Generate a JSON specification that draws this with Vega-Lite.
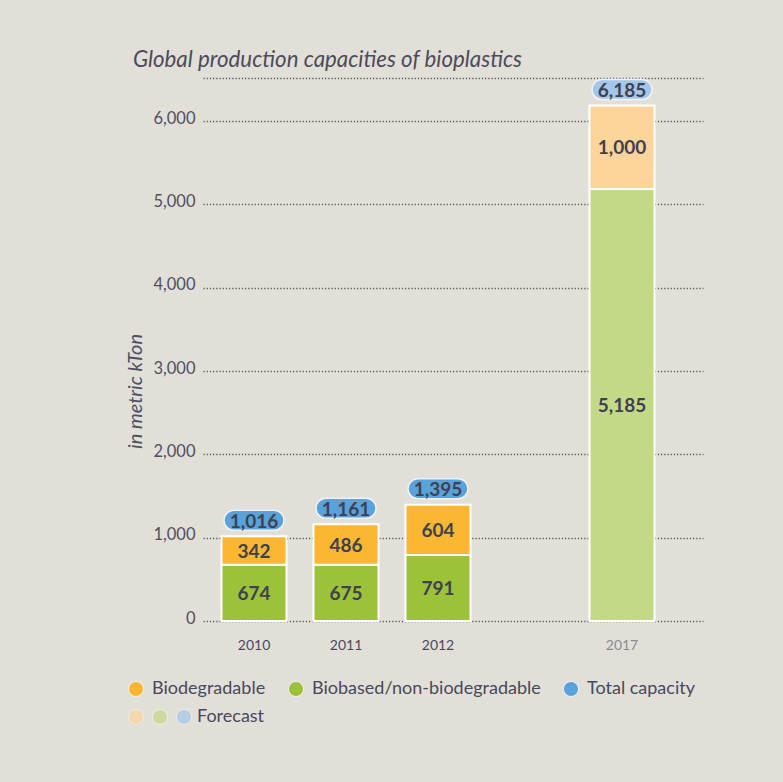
{
  "$schema": "https://vega.github.io/schema/vega-lite/v6.json",
  "width": 500,
  "height": 500,
  "autosize": {"type": "none"},
  "padding": {"left": 203, "top": 121, "right": 80, "bottom": 161},
  "background": "#e2dfd9",
  "title": {
    "text": "Global production capacities of bioplastics",
    "anchor": "start",
    "frame": "group",
    "font": "Lato",
    "fontStyle": "italic",
    "fontWeight": "normal",
    "fontSize": 22.3,
    "color": "#4c4c58",
    "baseline": "alphabetic",
    "dx": -70,
    "dy": 25,
    "offset": 12
  },
  "config": {
    "view": {"stroke": null},
    "axis": {"labelFont": "Lato", "titleFont": "Lato"},
    "legend": {"labelFont": "Lato"}
  },
  "data": {
    "values": [
      {"year": "2010", "kind": "part", "key": "Biobased/non-biodegradable", "value": 674},
      {"year": "2010", "kind": "part", "key": "Biodegradable", "value": 342},
      {"year": "2011", "kind": "part", "key": "Biobased/non-biodegradable", "value": 675},
      {"year": "2011", "kind": "part", "key": "Biodegradable", "value": 486},
      {"year": "2012", "kind": "part", "key": "Biobased/non-biodegradable", "value": 791},
      {"year": "2012", "kind": "part", "key": "Biodegradable", "value": 604},
      {"year": "2017", "kind": "part", "key": "Forecast biobased", "value": 5185},
      {"year": "2017", "kind": "part", "key": "Forecast biodegradable", "value": 1000},
      {"year": "2010", "kind": "total", "key": "Total capacity", "value": 1016},
      {"year": "2011", "kind": "total", "key": "Total capacity", "value": 1161},
      {"year": "2012", "kind": "total", "key": "Total capacity", "value": 1395},
      {"year": "2017", "kind": "total", "key": "Forecast", "value": 6185}
    ]
  },
  "resolve": {"axis": {"x": "independent"}},
  "layer": [
    {
      "transform": [{"filter": "datum.year == '2017'"}],
      "mark": {"type": "point", "filled": true, "size": 0, "shape": "circle"},
      "encoding": {
        "x": {
          "field": "year", "type": "nominal",
          "scale": {"domain": ["2010", "2011", "2012", " ", "2017"], "paddingInner": 0.293, "paddingOuter": 0.364, "align": 0.276},
          "axis": {"orient": "top", "offset": 43, "labels": false, "ticks": false, "domain": true, "domainDash": [1.2, 2], "domainColor": "#555", "domainWidth": 1.3, "title": null, "grid": false}
        },
        "y": {
          "field": "value", "type": "quantitative", "title": "in metric kTon",
          "scale": {"domain": [0, 6000], "nice": false},
          "axis": {"values": [0, 1000, 2000, 3000, 4000, 5000, 6000], "labelExpr": "format(datum.value, ',')", "domain": false, "ticks": false,
            "labelFontSize": 16.5, "labelColor": "#4e5060", "labelPadding": 8, "labelOffset": -3,
            "grid": true, "gridDash": [1.2, 2], "gridColor": "#555", "gridWidth": 1.3,
            "titleFontStyle": "italic", "titleFontWeight": "normal", "titleFontSize": 20, "titleColor": "#4e5060", "titlePadding": 7, "titleY": 270}
        },
        "fill": {
          "field": "key", "type": "nominal",
          "scale": {"domain": ["Forecast biodegradable", "Forecast biobased", "Forecast"], "range": ["#fdd49a", "#c4d987", "#a3c7ea"]},
          "legend": {
            "orient": "none", "legendX": -76, "legendY": 587, "direction": "horizontal", "columns": 3,
            "gridAlign": "none", "columnPadding": 1, "padding": 0, "title": null,
            "symbolType": "circle", "symbolSize": 227, "symbolStrokeColor": "#f4f2ee", "symbolStrokeWidth": 1,
            "labelOffset": 4, "labelFontSize": 18, "labelColor": "#474a5a",
            "labelExpr": "datum.label == 'Forecast' ? 'Forecast' : ''"
          }
        }
      }
    },
    {
      "transform": [
        {"filter": "datum.kind == 'part'"},
        {"stack": "value", "groupby": ["year"], "sort": [{"field": "key", "order": "ascending"}], "as": ["v0", "v1"]}
      ],
      "mark": {"type": "bar", "stroke": "#ffffff", "strokeWidth": 2},
      "encoding": {
        "x": {
          "field": "year", "type": "nominal",
          "axis": {"orient": "bottom", "domain": false, "ticks": false, "title": null, "labelAngle": 0, "labelFontSize": 14, "labelPadding": 17,
            "labelColor": {"expr": "datum.value == '2017' ? '#8c8a90' : '#4a4a58'"}}
        },
        "y": {
          "field": "v0", "type": "quantitative", "title": "in metric kTon",
          "axis": {"values": [0, 1000, 2000, 3000, 4000, 5000, 6000], "labelExpr": "format(datum.value, ',')", "domain": false, "ticks": false,
            "labelFontSize": 16.5, "labelColor": "#4e5060", "labelPadding": 8, "labelOffset": -3,
            "grid": true, "gridDash": [1.2, 2], "gridColor": "#555", "gridWidth": 1.3,
            "titleFontStyle": "italic", "titleFontWeight": "normal", "titleFontSize": 20, "titleColor": "#4e5060", "titlePadding": 7, "titleY": 270}
        },
        "y2": {"field": "v1"},
        "color": {
          "field": "key", "type": "nominal",
          "scale": {
            "domain": ["Biodegradable", "Biobased/non-biodegradable", "Total capacity", "Forecast biodegradable", "Forecast biobased", "Forecast"],
            "range": ["#fbb731", "#9cc23a", "#5aa2db", "#fdd49a", "#c4d987", "#a3c7ea"]
          },
          "legend": {
            "values": ["Biodegradable", "Biobased/non-biodegradable", "Total capacity"],
            "orient": "none", "legendX": -76, "legendY": 559, "direction": "horizontal", "columns": 3,
            "gridAlign": "none", "columnPadding": 20, "padding": 0, "title": null, "labelLimit": 400,
            "symbolType": "circle", "symbolSize": 227, "symbolStrokeColor": "#f4f2ee", "symbolStrokeWidth": 1, "symbolOpacity": 1,
            "labelOffset": 7, "labelFontSize": 18, "labelColor": "#474a5a"
          }
        }
      }
    },
    {
      "transform": [
        {"filter": "datum.kind == 'part'"},
        {"stack": "value", "groupby": ["year"], "sort": [{"field": "key", "order": "ascending"}], "as": ["v0", "v1"]},
        {"calculate": "(datum.v0 + datum.v1) / 2", "as": "mid"}
      ],
      "mark": {"type": "text", "font": "Lato", "fontWeight": "bold", "fontSize": 19, "color": "#3f4150", "baseline": "middle", "dy": 1},
      "encoding": {
        "x": {"field": "year", "type": "nominal", "axis": null},
        "y": {"field": "mid", "type": "quantitative", "title": "in metric kTon"},
        "text": {"field": "value", "type": "quantitative", "format": ","}
      }
    },
    {
      "transform": [{"filter": "datum.kind == 'total'"}],
      "mark": {"type": "point", "filled": true, "opacity": 1, "size": 3600, "yOffset": -16, "stroke": "#f2f2f2", "strokeWidth": 1.5,
        "shape": "M-0.667,-0.333L0.667,-0.333A0.333,0.333,0,0,1,0.667,0.333L-0.667,0.333A0.333,0.333,0,0,1,-0.667,-0.333Z"},
      "encoding": {
        "x": {"field": "year", "type": "nominal", "axis": null},
        "y": {"field": "value", "type": "quantitative", "title": "in metric kTon"},
        "color": {"field": "key", "type": "nominal"}
      }
    },
    {
      "transform": [{"filter": "datum.kind == 'total'"}],
      "mark": {"type": "text", "font": "Lato", "fontWeight": "bold", "fontSize": 19, "color": "#3f4150", "baseline": "middle", "yOffset": -14.5},
      "encoding": {
        "x": {"field": "year", "type": "nominal", "axis": null},
        "y": {"field": "value", "type": "quantitative", "title": "in metric kTon"},
        "text": {"field": "value", "type": "quantitative", "format": ","}
      }
    }
  ]
}
